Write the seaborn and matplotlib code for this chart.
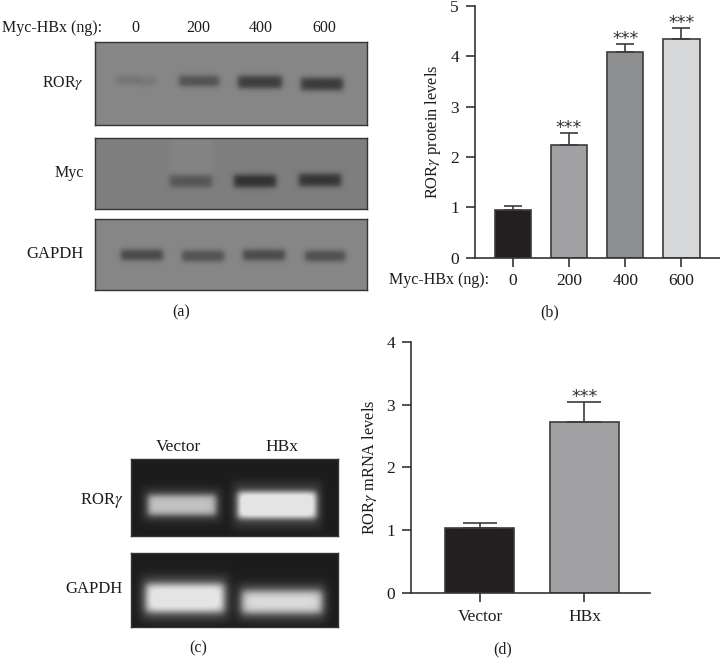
import numpy as np
import matplotlib
matplotlib.use("Agg")
import matplotlib.pyplot as plt
import seaborn as sns

sns.set_theme(style="ticks")
plt.rcParams["font.family"] = ["Liberation Serif", "DejaVu Serif"]
plt.rcParams["mathtext.fontset"] = "stix"

W, H = 720, 671
ROR = r"ROR$\gamma$"
FS = 11.5
DARK = "#333333"

dose_labels = ["0", "200", "400", "600"]
protein_means = [0.95, 2.24, 4.09, 4.35]
protein_tops = [1.03, 2.47, 4.24, 4.57]
protein_colors = ["#231f20", "#a1a1a4", "#8d8e90", "#d6d7d9"]
protein_stars = [False, True, True, True]

mrna_labels = ["Vector", "HBx"]
mrna_means = [1.04, 2.72]
mrna_tops = [1.11, 3.04]
mrna_colors = ["#231f20", "#a1a1a4"]
mrna_stars = [False, True]

# blot bands: lane centre x, centre y, half width, half height, signal
ror_bands = [(128, 80, 11, 4, -20), (147, 81, 9, 4, -16), (199, 81, 20, 5, -55),
             (260, 82, 22, 6, -75), (322, 84, 21, 6, -78)]
myc_bands = [(191, 157, 21, 20, 6), (191, 181, 21, 6, -42),
             (255, 181, 21, 6, -80), (320, 180, 21, 6, -76)]
gapdh_bands = [(142, 255, 21, 5, -66), (203, 256, 21, 5, -55),
               (264, 255, 21, 5, -64), (325, 256, 20, 5, -58)]
rt_ror_bands = [(182, 505, 40, 18, 18), (182, 505, 34, 10, 150),
                (277, 505, 45, 24, 22), (277, 505, 39, 13, 205)]
rt_gapdh_bands = [(185, 598, 45, 24, 25), (185, 598, 39, 14, 190),
                  (282, 602, 45, 20, 25), (282, 602, 40, 11, 170)]


def axes_px(fig, x0, y0, x1, y1):
    return fig.add_axes([x0 / W, 1 - y1 / H, (x1 - x0) / W, (y1 - y0) / H])


def text_px(fig, x, y, s, **kw):
    kw.setdefault("fontsize", FS)
    kw.setdefault("color", "#1c1c1c")
    kw.setdefault("ha", "center")
    kw.setdefault("va", "center")
    fig.text(x / W, 1 - y / H, s, **kw)


def draw_blot(fig, box, bands, background, soft):
    x0, y0, x1, y1 = box
    xs, ys = np.meshgrid(np.arange(x0, x1) + 0.5, np.arange(y0, y1) + 0.5)
    img = np.full(xs.shape, float(background))
    for cx, cy, hw, hh, amp in bands:
        fx = 0.5 * (np.tanh((xs - cx + hw) / soft) - np.tanh((xs - cx - hw) / soft))
        fy = 0.5 * (np.tanh((ys - cy + hh) / soft) - np.tanh((ys - cy - hh) / soft))
        img += amp * fx * fy
    ax = axes_px(fig, x0, y0, x1, y1)
    sns.heatmap(np.clip(img, 0, 228), ax=ax, cmap="gray", vmin=0, vmax=255, cbar=False,
                xticklabels=False, yticklabels=False)
    for spine in ax.spines.values():
        spine.set_visible(True)
        spine.set_color(DARK)
        spine.set_linewidth(1.0)
    ax.tick_params(length=0)
    return ax


def draw_bars(ax, labels, means, tops, colors, stars, ylim, yticks, xlim, width, cap, star_gap):
    sns.barplot(x=labels, y=means, hue=labels, palette=colors, saturation=1, width=width,
                edgecolor="#3c3c3c", linewidth=1.2, legend=False, ax=ax)
    for i, (m, t) in enumerate(zip(means, tops)):
        ax.errorbar(i, m, yerr=[[0], [t - m]], color="#3c3c3c", elinewidth=1.2,
                    capsize=cap, capthick=1.2, zorder=1)
        if stars[i]:
            ax.text(i, t + star_gap, "***", ha="center", va="center", fontsize=12.5,
                    family="DejaVu Sans", color="#333333")
    ax.set_xlim(*xlim)
    ax.set_ylim(*ylim)
    ax.set_yticks(yticks)
    ax.patch.set_alpha(0)
    sns.despine(ax=ax)
    for side in ("left", "bottom"):
        ax.spines[side].set_color(DARK)
        ax.spines[side].set_linewidth(1.2)
    ax.tick_params(axis="both", length=6.5, width=1.2, color=DARK, labelsize=12.5,
                   labelcolor="#1c1c1c")
    ax.tick_params(axis="x", pad=5)
    ax.tick_params(axis="y", pad=5)


fig = plt.figure(figsize=(W / 100, H / 100), dpi=100, facecolor="white")

# (a)
draw_blot(fig, (95, 42, 367, 125), ror_bands, 134, 3.2)
draw_blot(fig, (95, 138, 367, 209), myc_bands, 126, 3.2)
draw_blot(fig, (95, 219, 367, 290), gapdh_bands, 134, 3.2)
text_px(fig, 2, 28, "Myc-HBx (ng):", ha="left")
for x, s in zip([135, 198, 261, 324], dose_labels):
    text_px(fig, x, 28, s)
text_px(fig, 84, 83, ROR, ha="right")
text_px(fig, 84, 173, "Myc", ha="right")
text_px(fig, 84, 254, "GAPDH", ha="right", fontsize=12)
text_px(fig, 181, 312, "(a)")

# (b)
ax_b = axes_px(fig, 475, 6, 720, 257.5)
draw_bars(ax_b, dose_labels, protein_means, protein_tops, protein_colors, protein_stars,
          (0, 5), range(6), (-0.673, 3.687), 0.65, 6.8, 0.1)
ax_b.set_ylabel(ROR + " protein levels", fontsize=11.8, color="#1c1c1c", labelpad=5)
text_px(fig, 489, 280, "Myc-HBx (ng):", ha="right")
text_px(fig, 550, 312, "(b)")

# (c)
draw_blot(fig, (131, 459, 338, 536), rt_ror_bands, 28, 4.0)
draw_blot(fig, (131, 553, 338, 627), rt_gapdh_bands, 28, 5.0)
text_px(fig, 178, 447, "Vector", fontsize=12.5)
text_px(fig, 282, 447, "HBx", fontsize=12.5)
text_px(fig, 123, 501, ROR, ha="right", fontsize=12)
text_px(fig, 123, 589, "GAPDH", ha="right", fontsize=12)
text_px(fig, 198, 648, "(c)")

# (d)
ax_d = axes_px(fig, 411, 341.7, 650, 593)
draw_bars(ax_d, mrna_labels, mrna_means, mrna_tops, mrna_colors, mrna_stars,
          (0, 4), range(5), (-0.66, 1.627), 0.66, 12.5, 0.08)
ax_d.set_ylabel(ROR + " mRNA levels", fontsize=11.8, color="#1c1c1c", labelpad=5)
text_px(fig, 503, 649, "(d)")

fig.savefig("out.png", dpi=100)
